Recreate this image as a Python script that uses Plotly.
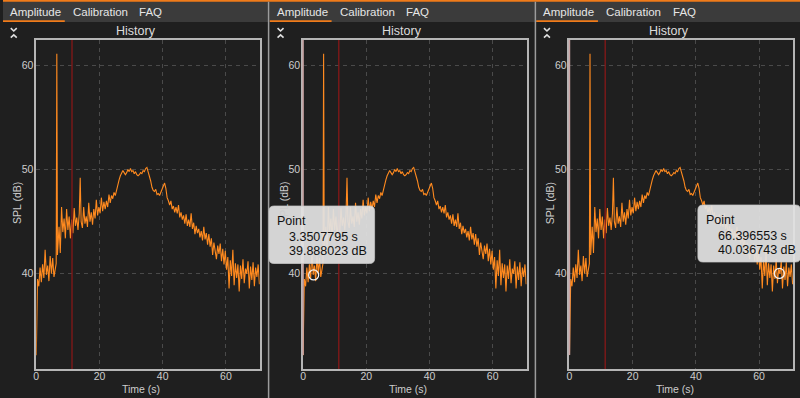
import plotly.graph_objects as go

# ---------------- data ----------------
TIME = [0.0, 0.4, 0.8, 1.2, 1.6, 2.0, 2.4, 2.8, 3.2, 3.6, 4.0, 4.4, 4.8, 5.2, 5.6, 6.0, 6.3, 6.5, 6.7,
        7.2, 7.6, 8.0, 8.4, 8.8, 9.2, 9.6, 10.0, 10.4, 10.8, 11.2, 11.6, 12.0, 12.4, 12.8, 13.2, 13.6, 13.9,
        14.2, 14.6, 15.0, 15.4, 15.8, 16.2, 16.6, 17.0, 17.4, 17.8, 18.2, 18.6, 19.0, 19.4, 19.8, 20.2,
        20.6, 21.0, 21.4, 21.8, 22.2, 22.6, 23.0, 23.4, 23.8, 24.2, 24.6, 25.0, 25.4, 25.8, 26.2, 26.6,
        27.0, 27.4, 27.8, 28.2, 28.6, 29.0, 29.4, 29.8, 30.2, 30.6, 31.0, 31.4, 31.8, 32.2, 32.6, 33.0,
        33.4, 33.8, 34.2, 34.6, 35.0, 35.4, 35.8, 36.2, 36.6, 37.0, 37.4, 37.8, 38.2, 38.6, 39.0, 39.4,
        39.8, 40.2, 40.6, 41.0, 41.4, 41.8, 42.2, 42.6, 43.0, 43.4, 43.8, 44.2, 44.6, 45.0, 45.4, 45.8,
        46.2, 46.6, 47.0, 47.4, 47.8, 48.2, 48.6, 49.0, 49.4, 49.8, 50.2, 50.6, 51.0, 51.4, 51.8, 52.2,
        52.6, 53.0, 53.4, 53.8, 54.2, 54.6, 55.0, 55.4, 55.8, 56.2, 56.6, 57.0, 57.4, 57.8, 58.2, 58.6,
        59.0, 59.4, 59.8, 60.2, 60.6, 61.0, 61.4, 61.8, 62.2, 62.6, 63.0, 63.4, 63.8, 64.2, 64.6, 65.0,
        65.4, 65.8, 66.2, 66.6, 67.0, 67.4, 67.8, 68.2, 68.6, 69.0, 69.4, 69.8, 70.2, 70.6]

SPL = [32.2, 39.5, 38.8, 40.6, 39.2, 40.9, 39.6, 42.3, 39.9, 40.8, 39.3, 41.7, 40.0, 41.5, 39.7, 40.6, 41.0, 61.1, 41.8,
       44.5, 42.0, 46.4, 44.0, 45.3, 43.4, 46.2, 44.2, 45.5, 43.4, 45.2, 43.9, 46.3, 44.6, 45.4, 44.2, 45.8, 49.2,
       45.0, 44.4, 46.4, 44.8, 45.5, 44.5, 46.8, 45.0, 45.9, 44.7, 46.2, 45.3, 47.1, 45.6, 46.4, 45.8,
       47.3, 46.0, 46.9, 46.2, 47.0, 46.4, 47.6, 46.8, 47.5, 47.2, 47.8, 47.5, 48.0, 48.6, 49.0, 49.4,
       49.6, 49.9, 49.7, 49.5, 49.7, 50.0, 49.8, 50.1, 49.8, 49.9, 49.6, 49.8, 49.5, 49.4, 49.5, 49.7,
       49.6, 49.9, 49.8, 50.1, 50.2, 49.8, 49.4, 48.9, 48.3, 48.0, 47.9, 48.1, 47.6, 47.7, 47.5, 47.8,
       48.0, 48.3, 48.7, 48.2, 47.3, 47.0, 46.6, 47.0, 46.2, 46.5, 45.9, 46.4, 45.8, 46.6, 45.4, 45.9,
       45.2, 45.6, 44.8, 45.7, 44.6, 45.2, 44.5, 45.8, 44.3, 44.9, 43.8, 44.6, 43.9, 44.3, 43.5, 44.1,
       43.2, 44.5, 43.3, 43.9, 42.8, 43.8, 42.6, 43.4, 41.8, 43.0, 42.3, 41.4, 42.7, 41.9, 42.9, 41.2,
       42.4, 40.9, 42.2, 40.4, 41.6, 38.6, 41.3, 39.8, 42.3, 38.9, 41.0, 39.6, 40.9, 38.3, 40.8, 39.5,
       41.4, 39.1, 40.5, 40.0, 41.2, 38.6, 40.7, 39.4, 41.1, 38.8, 40.6, 39.7, 40.9, 39.0]

MARKER_TIME = 11.3
X_TICKS = [0, 20, 40, 60]
Y_TICKS = [40, 50, 60]
X_RANGE = [0, 70.7]
Y_RANGE = [30.87, 62.42]

TABS = ["Amplitude", "Calibration", "FAQ"]
PANEL_TITLE = "History"
X_TITLE = "Time (s)"
Y_TITLE = "SPL (dB)"

# Hover point per panel (None for first panel)
HOVER_T = [None, 3.3507795, 66.396553]
HOVER_V = [None, 39.888023, 40.036743]

# ---------------- styling / layout ----------------
W, H = 800, 398
FONT = "Liberation Sans, Arial, sans-serif"
BG = "#1f1f1f"
TABBAR = "#3b3b3b"
ORANGE = "#ff8a1f"
ACCENT = "#f07b1a"
OFFSETS = [0.0, 267.8, 535.2]
PLOT_L, PLOT_R, PLOT_T, PLOT_B = 33.4, 257.7, 40.0, 369.0


def px(x):
    return x / W


def py(y):
    return 1 - y / H


def rounded(x0, y0, x1, y1, r):
    pts = []
    pts.append(f"M {px(x0 + r)},{py(y0)}")
    pts.append(f"L {px(x1 - r)},{py(y0)}")
    pts.append(f"Q {px(x1)},{py(y0)} {px(x1)},{py(y0 + r)}")
    pts.append(f"L {px(x1)},{py(y1 - r)}")
    pts.append(f"Q {px(x1)},{py(y1)} {px(x1 - r)},{py(y1)}")
    pts.append(f"L {px(x0 + r)},{py(y1)}")
    pts.append(f"Q {px(x0)},{py(y1)} {px(x0)},{py(y1 - r)}")
    pts.append(f"L {px(x0)},{py(y0 + r)}")
    pts.append(f"Q {px(x0)},{py(y0)} {px(x0 + r)},{py(y0)} Z")
    return " ".join(pts)


def label(text, x, y, size, color, anchor="left", angle=0):
    return dict(text=text, x=px(x), y=py(y), xref="paper", yref="paper", xanchor=anchor,
                yanchor="middle", showarrow=False, textangle=angle, borderpad=0, borderwidth=0,
                font=dict(family=FONT, size=size, color=color))


fig = go.Figure()
shapes = []
annotations = []
layout_axes = {}

for i, off in enumerate(OFFSETS):
    sfx = "" if i == 0 else str(i + 1)
    xa, ya = "x" + sfx, "y" + sfx

    fig.add_trace(go.Scatter(x=TIME, y=SPL, mode="lines", xaxis=xa, yaxis=ya,
                             line=dict(color=ORANGE, width=1.1), showlegend=False,
                             hoverinfo="skip"))
    # red marker line
    fig.add_trace(go.Scatter(x=[MARKER_TIME, MARKER_TIME], y=Y_RANGE, mode="lines",
                             xaxis=xa, yaxis=ya, line=dict(color="#861818", width=1.3),
                             showlegend=False, hoverinfo="skip"))
    if HOVER_T[i] is not None:
        fig.add_trace(go.Scatter(x=[HOVER_T[i]], y=[HOVER_V[i]], mode="markers",
                                 xaxis=xa, yaxis=ya,
                                 marker=dict(size=10, color="rgba(0,0,0,0)",
                                             line=dict(color="#f2f2f2", width=1.3)),
                                 showlegend=False, hoverinfo="skip"))

    axis_common = dict(showgrid=True, gridcolor="#4a4a4a", griddash="4px,4px", gridwidth=1,
                       zeroline=False, showline=True, mirror=True, linecolor="#b5b5b5",
                       linewidth=1.5, ticks="", tickfont=dict(family=FONT, size=10.5, color="#cdcdcd"),
                       fixedrange=True)
    layout_axes["xaxis" + sfx] = dict(axis_common, domain=[px(off + PLOT_L), px(off + PLOT_R)],
                                      range=X_RANGE, tickvals=X_TICKS, anchor=ya,
                                      ticklabelstandoff=-3)
    layout_axes["yaxis" + sfx] = dict(axis_common, domain=[py(PLOT_B), py(PLOT_T)],
                                      range=Y_RANGE, tickvals=Y_TICKS, anchor=xa,
                                      ticklabelstandoff=-1)

    # tab bar
    shapes.append(dict(type="rect", xref="paper", yref="paper", x0=px(off), x1=px(off + 267.5),
                       y0=py(22), y1=py(0), fillcolor=TABBAR, line_width=0, layer="below"))
    shapes.append(dict(type="rect", xref="paper", yref="paper", x0=px(off), x1=px(off + 62),
                       y0=py(22), y1=py(20.3), fillcolor=ACCENT, line_width=0))
    for text, tx in zip(TABS, [7, 70, 137]):
        annotations.append(label(text, off + tx, 12.5, 11.5, "#e6e6e6"))
    # chevrons
    shapes.append(dict(type="path", xref="paper", yref="paper",
                       path=f"M {px(off+7.8)},{py(28.2)} L {px(off+10.8)},{py(31)} L {px(off+13.8)},{py(28.2)}",
                       line=dict(color="#e0e0e0", width=1.6)))
    shapes.append(dict(type="path", xref="paper", yref="paper",
                       path=f"M {px(off+7.8)},{py(37.6)} L {px(off+10.8)},{py(34.8)} L {px(off+13.8)},{py(37.6)}",
                       line=dict(color="#e0e0e0", width=1.6)))
    # titles
    annotations.append(label(PANEL_TITLE, off + 133, 31, 12.5, "#dcdcdc", anchor="center"))
    annotations.append(label(X_TITLE, off + 139, 388.5, 10.5, "#cdcdcd", anchor="center"))
    annotations.append(label(Y_TITLE, off + 14, 203, 10.5, "#cdcdcd", anchor="center", angle=-90))
    # pinkish left border in panels 2 and 3
    if i > 0:
        shapes.append(dict(type="line", xref="paper", yref="paper", x0=px(off + PLOT_L), x1=px(off + PLOT_L),
                           y0=py(PLOT_T), y1=py(PLOT_B - 14), line=dict(color="#c9a3a3", width=1.5)))

# top orange strip
shapes.append(dict(type="rect", xref="paper", yref="paper", x0=0, x1=1, y0=py(1.8), y1=1,
                   fillcolor=ACCENT, line_width=0))
# panel separators
for sx in [266.6, 534.4]:
    shapes.append(dict(type="line", xref="paper", yref="paper", x0=px(sx), x1=px(sx), y0=0, y1=py(1.8),
                       line=dict(color="#9c9c9c", width=1.5)))

# tooltips
TIPS = [(1, 267.0, 206.0, 373.0, 263.5), (2, 697.5, 205.0, 800.5, 262.0)]
for idx, x0, y0, x1, y1 in TIPS:
    shapes.append(dict(type="path", xref="paper", yref="paper", path=rounded(x0, y0, x1, y1, 5),
                       fillcolor="rgba(226,226,226,0.93)", line=dict(color="rgba(200,200,200,0.9)", width=0.8)))
    annotations.append(label("Point", x0 + 8, y0 + 15, 12.5, "#111111"))
    annotations.append(label(f"{HOVER_T[idx]} s", x0 + 20, y0 + 31, 12.5, "#111111"))
    annotations.append(label(f"{HOVER_V[idx]} dB", x0 + 20, y0 + 44.5, 12.5, "#111111"))

fig.update_layout(width=W, height=H, margin=dict(l=0, r=0, t=0, b=0), paper_bgcolor=BG,
                  plot_bgcolor=BG, shapes=shapes, annotations=annotations, showlegend=False,
                  **layout_axes)

fig.write_html("out.html", config={"displayModeBar": False})
